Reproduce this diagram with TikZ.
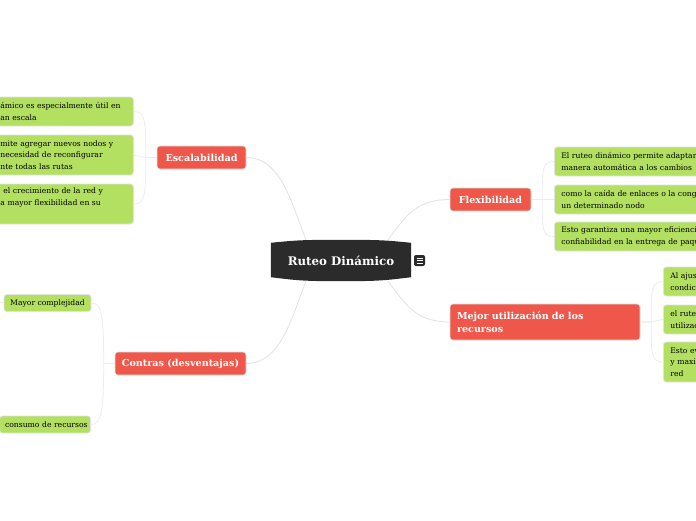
\documentclass[tikz,border=0pt]{standalone}
\usepackage{fontspec}
\setmainfont{DejaVu Serif}
\definecolor{redbox}{HTML}{EE5749}
\definecolor{greenbox}{HTML}{B3E061}
\definecolor{edgegrey}{HTML}{E2E2E2}
\definecolor{branchgrey}{HTML}{EDEDED}
\definecolor{rootdark}{HTML}{2B2B2B}
\tikzset{
  redbox/.style={fill=redbox,draw=edgegrey,line width=0.6pt,rounded corners=3pt,text=white,font=\fontsize{9.6}{13}\selectfont\bfseries,inner xsep=0pt,inner ysep=0pt,minimum height=23pt},
  greenbox/.style={fill=greenbox,draw=edgegrey,line width=0.8pt,rounded corners=3pt,text=black,font=\fontsize{7.65}{11.6}\selectfont,align=left,inner xsep=7pt,inner ysep=0pt,anchor=west},
  mainlink/.style={draw=edgegrey,line width=0.8pt},
  sublink/.style={draw=branchgrey,line width=0.8pt}
}
\begin{document}
\begin{tikzpicture}[x=1pt,y=-1pt]
\useasboundingbox (0,0) rectangle (696,520);
\fill[white] (0,0) rectangle (696,520);
\clip (0,0) rectangle (696,520);
% root anchor box (its outline is drawn below, over the connectors)
\node[minimum width=140pt,minimum height=41pt,inner sep=0pt] (root) at (341,260.5) {};
% red topics
\node[redbox,minimum width=89pt] (esc) at (201.5,157.5) {Escalabilidad};
\node[redbox,minimum width=81pt] (flex) at (490.5,199.5) {Flexibilidad};
\node[redbox,minimum width=190pt,minimum height=36pt,align=left,text width=176pt,font=\fontsize{9.6}{13.5}\selectfont\bfseries] (mejor) at (545,322) {Mejor utilización de los\\recursos};
\node[redbox,minimum width=131pt] (con) at (180.5,363.5) {Contras (desventajas)};
% connectors root
\draw[mainlink] (esc.east) .. controls +(35,0) and +(-14,-35) .. ([xshift=-35pt]root.north);
\draw[mainlink] (con.east) .. controls +(35,0) and +(-14,35) .. ([xshift=-35pt]root.south);
\draw[mainlink] (flex.west) .. controls +(-35,0) and +(17,-22) .. ([xshift=47pt]root.north);
\draw[mainlink] (mejor.west) .. controls +(-35,0) and +(17,22) .. ([xshift=47pt]root.south);
% root shape
\fill[rootdark] ([yshift=-3pt]root.north west) .. controls +(25,-2.5) and +(-40,0) .. (root.north) .. controls +(40,0) and +(-25,-2.5) .. ([yshift=-3pt]root.north east)
  -- ([yshift=4pt]root.south east) .. controls +(-25,3) and +(40,0) .. (root.south) .. controls +(-40,0) and +(25,3) .. ([yshift=4pt]root.south west) -- cycle;
\node[inner sep=0pt,text=white,font=\fontsize{11.8}{13}\selectfont\bfseries] (roottext) at (root.center) {Ruteo Dinámico};
% icon
\node[fill=rootdark,rounded corners=2pt,minimum width=11pt,minimum height=11pt,inner sep=0pt] (icon) at (419.5,260.5) {};
\draw[white,line width=0.8pt] ([xshift=-3pt,yshift=-2.5pt]icon.center) -- ([xshift=3pt,yshift=-2.5pt]icon.center)
  ([xshift=-3pt]icon.center) -- ([xshift=3pt]icon.center)
  ([xshift=-3pt,yshift=2.5pt]icon.center) -- ([xshift=3pt,yshift=2.5pt]icon.center);
% left green
\node[greenbox,text width=126pt,minimum height=29pt] (e1) at (-7,111.5) {ámico es especialmente útil en\\an escala};
\node[greenbox,text width=126pt,minimum height=40pt] (e2) at (-7,155) {mite agregar nuevos nodos y\\necesidad de reconfigurar\\nte todas las rutas};
\node[greenbox,text width=126pt,minimum height=40pt] (e3) at (-7,204) {\hspace*{3pt}el crecimiento de la red y\\a mayor flexibilidad en su\\\strut};
% right green
\node[greenbox,text width=190pt,minimum height=29pt] (f1) at (554,161.5) {El ruteo dinámico permite adaptarse\\manera automática a los cambios};
\node[greenbox,text width=190pt,minimum height=29pt] (f2) at (554,199.5) {como la caída de enlaces o la congestión\\un determinado nodo};
\node[greenbox,text width=190pt,minimum height=29pt] (f3) at (554,236.5) {Esto garantiza una mayor eficiencia\\confiabilidad en la entrega de paquetes};
\node[greenbox,text width=190pt,minimum height=29pt] (m1) at (663,281.5) {Al ajustarse\\condiciones};
\node[greenbox,text width=190pt,minimum height=29pt] (m2) at (663,319.5) {el ruteo\\utilización};
\node[greenbox,text width=190pt,minimum height=40pt] (m3) at (663,362) {Esto evita\\y maximiza\\red};
% contras children
\node[greenbox,anchor=center,minimum width=87pt,minimum height=17pt,inner xsep=0pt,align=center,yshift=-0.5pt] (c1) at (47.5,302.5) {Mayor complejidad};
\node[greenbox,anchor=east,text width=91pt,minimum height=17pt,inner xsep=0pt,align=right] (c2) at (91,424.5) {consumo de recursos\hspace*{3pt}};
\coordinate (stub) at (0,302.5);
\draw[sublink] (stub) -- (c1.west);
% branches
\draw[sublink] (esc.west) -- ++(-11,0) .. controls +(0,-35) and +(12,0) .. (e1.east);
\draw[sublink] (esc.west) -- ++(-11,0) -- (e2.east);
\draw[sublink] (esc.west) -- ++(-11,0) .. controls +(0,35) and +(12,0) .. (e3.east);
\draw[sublink] (flex.east) -- (f2.west);
\draw[sublink] (flex.east) -- ++(11,0) .. controls +(0,-30) and +(-12,0) .. (f1.west);
\draw[sublink] (flex.east) -- ++(11,0) .. controls +(0,30) and +(-12,0) .. (f3.west);
\draw[sublink] (mejor.east) -- ++(11,0) -- (m2.west);
\draw[sublink] (mejor.east) -- ++(11,0) .. controls +(0,-32) and +(-12,0) .. (m1.west);
\draw[sublink] (mejor.east) -- ++(11,0) .. controls +(0,32) and +(-12,0) .. (m3.west);
\draw[sublink] (con.west) -- ++(-11,0) .. controls +(0,-50) and +(10,0) .. (c1.east);
\draw[sublink] (con.west) -- ++(-11,0) .. controls +(0,50) and +(10,0) .. (c2.east);
\end{tikzpicture}
\end{document}
